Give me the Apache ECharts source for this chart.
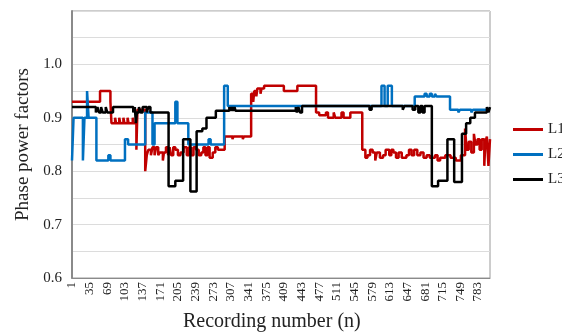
<!DOCTYPE html>
<html>
<head>
<meta charset="utf-8">
<script src="https://cdn.jsdelivr.net/npm/echarts@6/dist/echarts.min.js"></script>
<style>html,body{margin:0;padding:0;background:#fff;}#c{width:562px;height:334px;}</style>
</head>
<body>
<div id="c"></div>
<script>
// Series names
const seriesNames = ['L1', 'L2', 'L3'];
// Change points: [recording number n, phase power factor] (value holds until next point)
const l1Points = [[1,0.93],[55,0.95],[75,0.93],[77,0.89],[84,0.90],[86,0.89],[92,0.90],[94,0.89],[100,0.90],[102,0.89],[108,0.90],[110,0.89],[118,0.90],[120,0.89],[125,0.84],[127,0.915],[142,0.80],[145,0.83],[148,0.84],[153,0.83],[156,0.845],[160,0.83],[163,0.845],[167,0.83],[170,0.835],[176,0.82],[178,0.835],[182,0.845],[186,0.83],[189,0.845],[192,0.83],[196,0.845],[200,0.84],[205,0.83],[210,0.835],[216,0.845],[222,0.83],[226,0.845],[230,0.83],[235,0.845],[240,0.84],[245,0.83],[250,0.835],[254,0.845],[258,0.83],[262,0.845],[266,0.825],[272,0.835],[277,0.845],[282,0.84],[295,0.865],[310,0.86],[312,0.865],[330,0.86],[332,0.865],[346,0.945],[350,0.93],[352,0.95],[356,0.94],[358,0.955],[364,0.945],[366,0.955],[371,0.96],[409,0.95],[435,0.96],[471,0.91],[477,0.905],[490,0.91],[494,0.90],[505,0.91],[508,0.90],[520,0.91],[524,0.90],[537,0.91],[560,0.84],[566,0.825],[570,0.83],[575,0.84],[580,0.835],[585,0.82],[588,0.835],[594,0.825],[600,0.83],[605,0.84],[612,0.83],[616,0.84],[620,0.835],[625,0.825],[630,0.835],[636,0.825],[645,0.83],[650,0.84],[655,0.83],[660,0.84],[666,0.83],[672,0.835],[678,0.825],[684,0.83],[690,0.825],[700,0.83],[705,0.82],[710,0.825],[720,0.83],[730,0.825],[740,0.82],[750,0.83],[758,0.88],[761,0.84],[765,0.855],[770,0.835],[775,0.87],[778,0.85],[782,0.86],[786,0.84],[790,0.86],[795,0.81],[797,0.855],[800,0.865],[803,0.81],[806,0.86]];
const l2Points = [[1,0.82],[4,0.90],[22,0.82],[25,0.90],[30,0.95],[33,0.90],[48,0.82],[71,0.83],[75,0.82],[103,0.86],[109,0.85],[142,0.91],[156,0.85],[160,0.89],[200,0.93],[204,0.89],[225,0.85],[264,0.86],[268,0.85],[294,0.96],[301,0.922],[597,0.96],[603,0.922],[609,0.96],[617,0.922],[661,0.94],[680,0.945],[684,0.94],[690,0.945],[694,0.94],[700,0.945],[703,0.94],[729,0.915],[745,0.91],[748,0.915],[770,0.91],[773,0.915],[806,0.915]];
const l3Points = [[1,0.92],[47,0.91],[50,0.92],[53,0.91],[57,0.92],[60,0.91],[66,0.92],[69,0.91],[80,0.92],[119,0.91],[122,0.92],[124,0.89],[126,0.91],[130,0.92],[133,0.91],[137,0.92],[145,0.91],[148,0.92],[152,0.91],[187,0.772],[200,0.782],[215,0.86],[229,0.762],[241,0.875],[252,0.88],[260,0.90],[278,0.913],[304,0.92],[306,0.913],[309,0.92],[311,0.913],[314,0.92],[316,0.913],[432,0.92],[434,0.91],[437,0.92],[440,0.91],[444,0.922],[574,0.915],[578,0.922],[638,0.915],[641,0.922],[657,0.915],[662,0.922],[668,0.91],[672,0.922],[676,0.91],[680,0.922],[694,0.772],[706,0.782],[724,0.86],[737,0.78],[752,0.87],[760,0.89],[768,0.90],[777,0.91],[800,0.92],[803,0.91],[806,0.92]];
const yTickLabels = ['0.6','0.7','0.8','0.9','1.0'];
const xTickStep = 34;
const lastRecord = 806;

const colors = ['#C00000', '#0070C0', '#000000'];
const font = '"Liberation Serif", "Times New Roman", serif';
const toXY = pts => pts.map(p => [p[0] - 1, p[1]]);
const allPoints = [l1Points, l2Points, l3Points];

const chart = echarts.init(document.getElementById('c'), null, {renderer: 'canvas'});
chart.setOption({
  animation: false,
  backgroundColor: '#fff',
  grid: {left: 72, right: 72, top: 11, bottom: 56, show: true, borderColor: '#9a9a9a', borderWidth: 1},
  xAxis: {
    type: 'value', min: 0, max: lastRecord - 1, interval: xTickStep,
    axisLine: {show: true, lineStyle: {color: '#8a8a8a', width: 1}},
    axisTick: {show: false},
    splitLine: {show: false},
    axisLabel: {
      rotate: 90, margin: 4, color: '#222', fontFamily: font, fontSize: 13,
      showMaxLabel: true, showMinLabel: true,
      formatter: v => (v % xTickStep === 0 && v <= lastRecord - 1) ? String(v + 1) : ''
    }
  },
  yAxis: {
    type: 'value', min: 0.6, max: 1.1, interval: 0.05,
    axisLine: {show: true, lineStyle: {color: '#8a8a8a', width: 2}},
    axisTick: {show: false},
    splitLine: {show: true, lineStyle: {color: '#dcdcdc', width: 1}},
    axisLabel: {
      margin: 10, color: '#222', fontFamily: font, fontSize: 15,
      formatter: v => {
        const s = v.toFixed(2);
        const t = v.toFixed(1);
        return (s === t + '0' && yTickLabels.includes(t)) ? t : '';
      }
    }
  },
  legend: {
    orient: 'vertical', left: 513, top: 122, padding: 0, itemGap: 10,
    itemWidth: 30, itemHeight: 3, icon: 'rect',
    textStyle: {fontFamily: font, fontSize: 15, color: '#222'},
    data: seriesNames
  },
  graphic: [
    {type: 'text', left: 14, top: 68, rotation: Math.PI / 2,
     style: {text: 'Phase power factors', font: '19px ' + font, fill: '#222'}, z: 10},
    {type: 'text', left: 183, top: 312,
     style: {text: 'Recording number (n)', font: '20px ' + font, fill: '#222'}, z: 10}
  ],
  series: seriesNames.map((name, i) => ({
    name, type: 'line', step: 'end', symbol: 'none',
    data: toXY(allPoints[i]),
    color: colors[i],
    lineStyle: {color: colors[i], width: 2.5}
  }))
});
</script>
</body>
</html>
